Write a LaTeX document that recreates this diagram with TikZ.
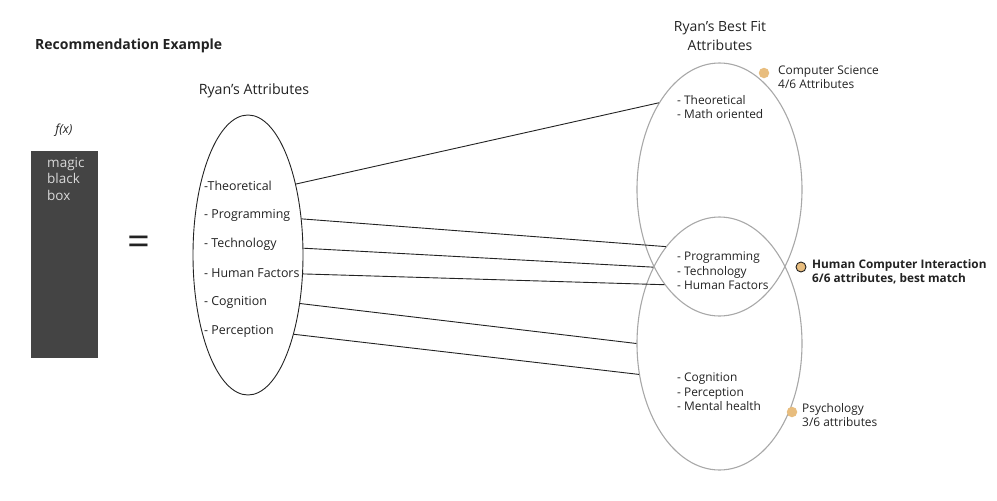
\documentclass[tikz,border=0pt]{standalone}
\usepackage{fontspec}
\setmainfont{Open Sans}
\usetikzlibrary{shapes.geometric}
\definecolor{txt}{HTML}{222222}
\definecolor{boxc}{HTML}{444444}
\definecolor{ringc}{HTML}{A8A8A8}
\definecolor{dotc}{HTML}{E8BD7E}
\tikzset{
  lbl/.style={inner sep=0pt, text=txt, align=left, anchor=west},
  item/.style={lbl, font=\fontsize{11.9}{14.5}\selectfont},
  litem/.style={lbl, font=\fontsize{12.4}{14}\selectfont},
  ringL/.style={ellipse, draw=txt, line width=0.9pt, inner sep=0pt, minimum width=110pt, minimum height=280pt},
  ringR/.style={ellipse, draw=ringc, line width=1.1pt, inner sep=0pt, minimum width=165pt, minimum height=253pt},
  conn/.style={draw=txt, line width=0.9pt},
  dot/.style={circle, fill=dotc, inner sep=0pt, minimum size=10.5pt}
}
\begin{document}
\begin{tikzpicture}[x=1pt, y=-1pt]
\useasboundingbox (0,0) rectangle (997,501);
% title
\node[lbl, font=\fontsize{14}{16}\selectfont\bfseries] (title) at (35,46) {Recommendation Example};
% black box
\node[lbl, anchor=center, font=\fontsize{12.5}{14}\selectfont\itshape] (fx) at (64,130) {f(x)};
\fill[boxc] (31,151) rectangle (98,358);
\node[lbl, anchor=north west, text=white!85!black, font=\fontsize{13.5}{16.5}\selectfont] (magic) at (47,157) {magic\\black\\box};
\node[lbl, anchor=center, font=\fontsize{40}{40}\selectfont] (eq) at (139,246) {=};
% left ellipse
\node[lbl, anchor=center, font=\fontsize{14.2}{16}\selectfont] (lt) at (254,91) {Ryan’s Attributes};
\node[ringL] (L) at (248,255) {};
\node[litem] (l1) at (204,186) {-Theoretical};
\node[litem] (l2) at (204,215.5) {- Programming};
\node[litem] (l3) at (204,244.5) {- Technology};
\node[litem] (l4) at (204,273.5) {- Human Factors};
\node[litem] (l5) at (204,302.5) {- Cognition};
\node[litem] (l6) at (204,331.5) {- Perception};
% right ellipses
\node[lbl, anchor=center, align=center, font=\fontsize{14}{19}\selectfont] (rt) at (720,36) {Ryan’s Best Fit\\Attributes};
\node[ringR] (T) at (719.5,189.5) {};
\node[ringR] (B) at (719.5,343.5) {};
\node[item] (t1) at (677,107) {- Theoretical\\- Math oriented};
\node[item] (m1) at (677,271) {- Programming\\- Technology\\- Human Factors};
\node[item] (b1) at (677,392) {- Cognition\\- Perception\\- Mental health};
% dots and labels
\node[dot] (d1) at (764,73) {};
\node[item] (cs) at (778,77) {Computer Science\\4/6 Attributes};
\node[dot, draw=txt, line width=0.9pt, minimum size=10pt] (d2) at (801,267) {};
\node[item, font=\fontsize{11.8}{14.5}\selectfont\bfseries] (hci) at (812,272) {Human Computer Interaction\\6/6 attributes, best match};
\node[dot] (d3) at (792,412) {};
\node[item] (ps) at (802,415) {Psychology\\3/6 attributes};
% connectors
\draw[conn] (L.56.3) -- (T.125);
\draw[conn] (L.34.9) -- (B.119.5);
\draw[conn] (L.7.3) -- (B.131);
\draw[conn] (L.-19.4) -- (T.240.3);
\draw[conn] (L.-43.9) -- (B.180);
\draw[conn] (L.-60) -- (B.201.4);
\end{tikzpicture}
\end{document}
